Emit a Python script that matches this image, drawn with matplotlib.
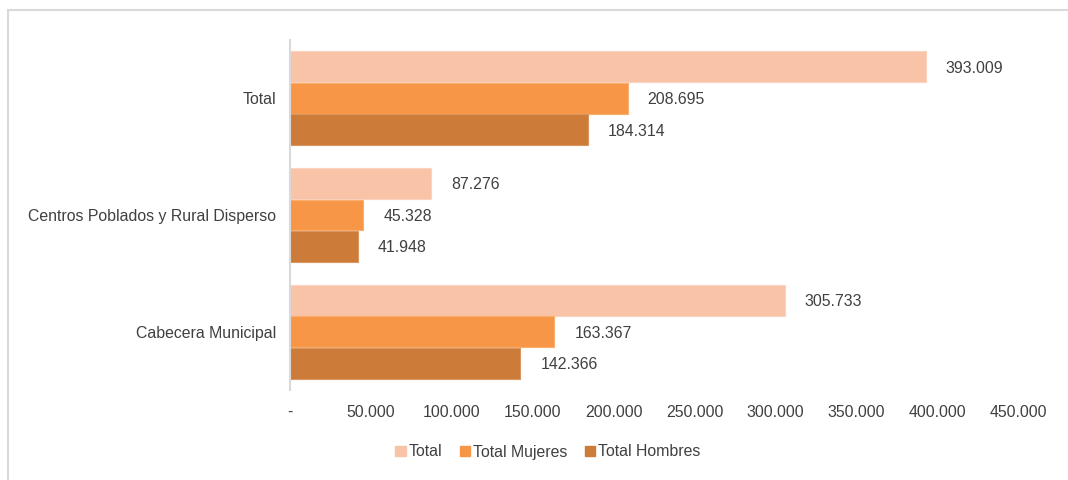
import matplotlib
matplotlib.use("Agg")
import matplotlib.pyplot as plt
from matplotlib.patches import Rectangle, Patch
import numpy as np

plt.rcParams['font.family'] = ['Liberation Sans', 'DejaVu Sans']

categories = ["Total", "Centros Poblados y Rural Disperso", "Cabecera Municipal"]
series_names = ["Total", "Total Mujeres", "Total Hombres"]
total = [393009, 87276, 305733]
mujeres = [208695, 45328, 163367]
hombres = [184314, 41948, 142366]
xticks = [0, 50000, 100000, 150000, 200000, 250000, 300000, 350000, 400000, 450000]

colors = ["#F9C3A8", "#F79646", "#CD7B38"]
edges = ["#FBD3BE", "#F9AE70", "#DA9660"]
text_color = "#404040"
fs = 11.4


def fmt(v):
    return f"{v:,}".replace(",", ".")


fig = plt.figure(figsize=(10.68, 4.8), dpi=100)
fig.patches.append(Rectangle((8 / 1068, -0.1), 1.2, 1 - 10 / 480 + 0.1,
                             transform=fig.transFigure, fill=False,
                             edgecolor="#D9D9D9", linewidth=1.5))

ax = fig.add_axes([290 / 1068, 1 - 390 / 480, 728 / 1068, 350 / 480])

y = np.arange(len(categories))
h = 0.265
step = 0.27
px_per_unit = 728 / 450000
for i, (vals, name) in enumerate(zip([total, mujeres, hombres], series_names)):
    pos = y + (i - 1) * step
    ax.barh(pos, vals, height=h, color=colors[i], edgecolor=edges[i],
            linewidth=0.8, label=name)
    for p, v in zip(pos, vals):
        ax.text(v + 20 / px_per_unit, p + 0.012, fmt(v), va="center", ha="left",
                fontsize=fs, color=text_color)

ax.set_xlim(0, 450000)
ax.set_ylim(2.5, -0.5)
ax.set_yticks(y)
ax.set_yticklabels(categories, fontsize=fs, color=text_color)
ax.set_xticks(xticks)
ax.set_xticklabels(["-"] + [fmt(t) for t in xticks[1:]], fontsize=fs,
                   color=text_color)
ax.tick_params(axis="both", length=0)
ax.tick_params(axis="x", pad=10.5)
ax.tick_params(axis="y", pad=10)
for s in ["top", "right", "bottom"]:
    ax.spines[s].set_visible(False)
ax.spines["left"].set_color("#D9D9D9")
ax.spines["left"].set_linewidth(1.5)

handles = [Patch(facecolor=c, edgecolor=c) for c in colors]
fig.legend(handles, series_names, loc="center", bbox_to_anchor=(548 / 1068, 1 - 452 / 480),
           ncol=3, frameon=False, fontsize=fs, handlelength=0.65, handleheight=0.65,
           handletextpad=0.2, columnspacing=1.1, labelcolor=text_color)

fig.savefig("out.png", dpi=100)
